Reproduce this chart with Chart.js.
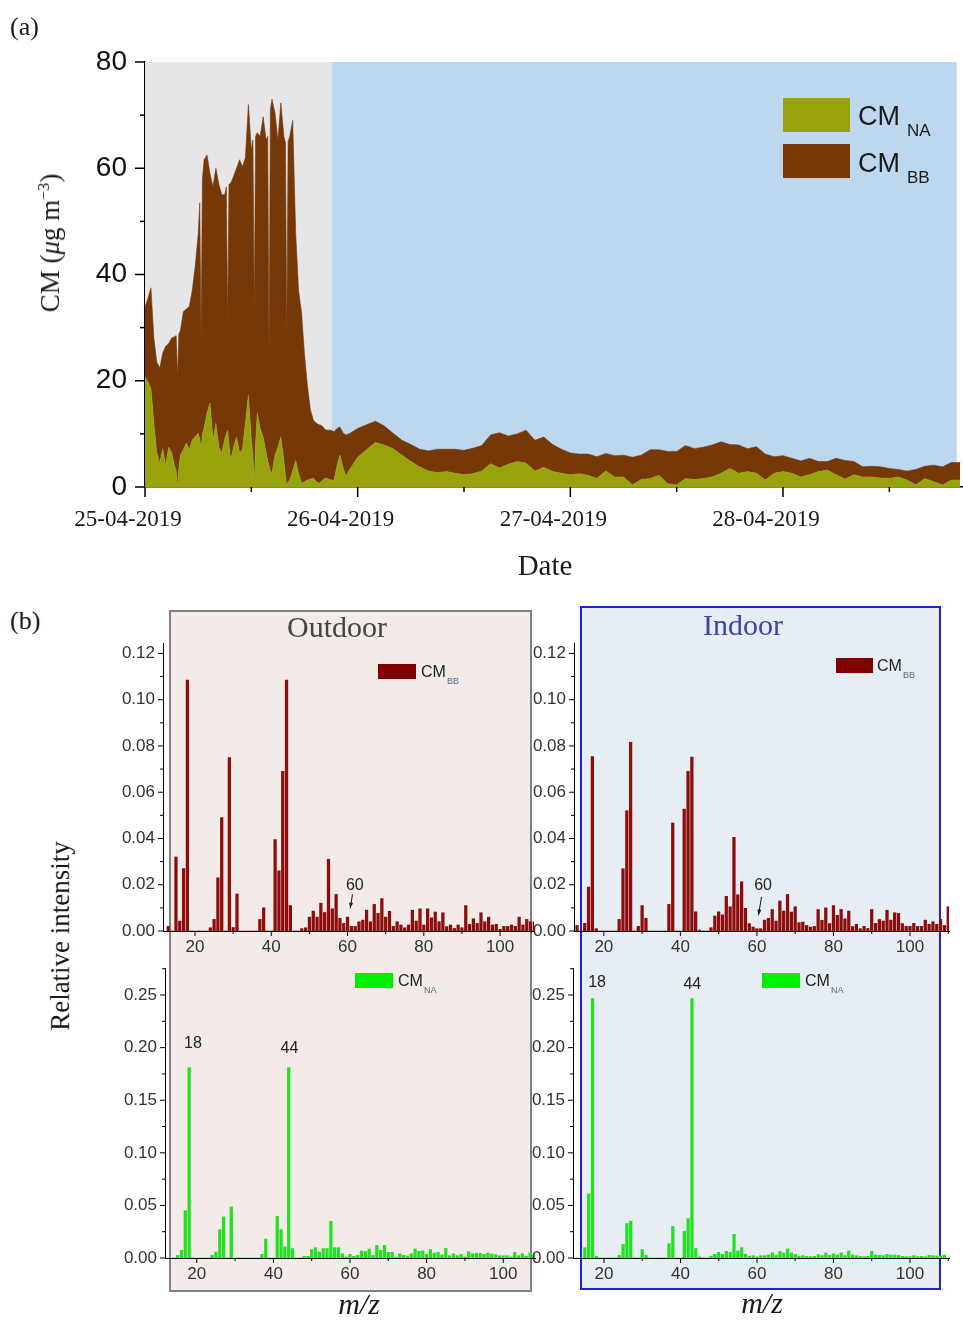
<!DOCTYPE html>
<html>
<head>
<meta charset="utf-8">
<script src="https://cdn.jsdelivr.net/npm/chart.js@4.4.1/dist/chart.umd.min.js"></script>
<style>
  body { margin: 0; background: #fff; width: 963px; height: 1320px; position: relative; overflow: hidden; font-family: "Liberation Serif", serif; }
  canvas { position: absolute; }
  .txt { position: absolute; white-space: nowrap; color: #1a1a1a; line-height: 1; }
  .frame { position: absolute; box-sizing: border-box; }
</style>
</head>
<body>
<div class="frame" style="left:169px;top:610px;width:363px;height:682px;border:2px solid #808080;background:#f3ebe7;"></div>
<div class="frame" style="left:580px;top:606px;width:361px;height:684px;border:2.5px solid #1f1fd6;background:#e6eef4;"></div>

<canvas id="cmChart"></canvas>
<canvas id="outBB"></canvas>
<canvas id="inBB"></canvas>
<canvas id="outNA"></canvas>
<canvas id="inNA"></canvas>

<div class="txt" style="left:10px;top:14px;font-size:26px;">(a)</div>
<div class="txt" style="left:10px;top:608px;font-size:26px;">(b)</div>
<div class="txt" style="left:50px;top:243px;font-size:27px;transform:translate(-50%,-50%) rotate(-90deg);">CM (<i>μ</i>g m<sup style="font-size:16px;">−3</sup>)</div>
<div class="txt" style="left:545px;top:551px;font-size:29px;transform:translateX(-50%);">Date</div>
<div class="txt" style="left:60px;top:936px;font-size:27px;transform:translate(-50%,-50%) rotate(-90deg);">Relative intensity</div>
<div class="txt" style="left:337px;top:612px;font-size:30px;color:#444;transform:translateX(-50%);">Outdoor</div>
<div class="txt" style="left:743px;top:610px;font-size:30px;color:#3a44aa;transform:translateX(-50%);">Indoor</div>
<div class="txt" style="left:359px;top:1289px;font-size:30px;font-style:italic;transform:translateX(-50%);">m/z</div>
<div class="txt" style="left:762px;top:1288px;font-size:30px;font-style:italic;transform:translateX(-50%);">m/z</div>

<script>
// ---- panel (a): time series of CM_NA and CM_BB (ug m-3), hours since 25-04-2019 00:00
const hours = [
  0, 0.33, 0.67, 1, 1.33, 1.67, 2, 2.33, 2.67, 3,
  3.33, 3.52, 3.67, 3.82, 4, 4.33, 4.67, 5, 5.33, 5.67,
  6, 6.18, 6.33, 6.48, 6.67, 7, 7.33, 7.67, 8, 8.33,
  8.67, 9, 9.18, 9.33, 9.48, 9.67, 10, 10.33, 10.67, 11,
  11.33, 11.67, 12, 12.18, 12.33, 12.48, 12.67, 13, 13.33, 13.67,
  13.85, 14, 14.15, 14.33, 14.67, 15, 15.33, 15.67, 15.85, 16,
  16.15, 16.33, 16.67, 17, 17.33, 17.67, 18, 18.33, 18.67, 19,
  19.33, 19.67, 20, 20.33, 20.67, 21, 21.33, 21.67, 22, 22.33,
  22.67, 23,
  24, 25, 26, 27, 28, 29, 30, 31, 32, 33,
  34, 35, 36, 37, 38, 39, 40, 41, 42, 43,
  44, 45, 46, 47, 48, 49, 50, 51, 52, 53,
  54, 55, 56, 57, 58, 59, 60, 61, 62, 63,
  64, 65, 66, 67, 68, 69, 70, 71, 72, 73,
  74, 75, 76, 77, 78, 79, 80, 81, 82, 83,
  84, 85, 86, 87, 88, 89, 90, 91, 92
];
const cmNA = [
  20.7, 19.8, 18.5, 12.0, 6.4, 4.5, 7.2, 4.0, 7.5, 6.5,
  4.0, 3.0, 0, 3.5, 6.0, 7.0, 8.3, 7.0, 8.8, 9.5,
  10.1, 9.0, 7.0, 10.0, 11.0, 14.0, 15.8, 8.8, 12.0, 7.5,
  6.4, 9.0, 10.0, 10.7, 8.0, 5.0, 7.5, 9.4, 6.4, 7.0,
  12.0, 17.3, 8.8, 6.0, 0, 8.0, 13.9, 11.0, 9.4, 6.4,
  5.0, 4.0, 3.0, 2.6, 6.0, 7.5, 9.4, 5.0, 2.0, 0,
  1.0, 1.3, 3.0, 5.0, 2.5, 0.7, 1.0, 1.3, 1.5, 1.7,
  1.0, 0.7, 1.2, 1.7, 1.5, 1.3, 1.3, 4.0, 6.0, 3.8,
  2.0, 3.0,
  5.6, 7.0, 8.4, 7.9, 7.2, 6.0, 4.8, 3.8, 3.0, 2.7,
  2.9, 2.6, 2.3, 2.5, 3.0, 4.4, 3.6, 4.3, 4.8, 4.5,
  3.0, 3.7, 2.9, 2.6, 2.3, 2.5, 2.2, 1.6, 3.0, 1.9,
  1.9, 0.4, 1.4, 1.6, 2.2, 0.6, 0.4, 1.6, 1.4, 1.6,
  1.9, 2.6, 3.5, 2.6, 2.9, 2.6, 1.3, 2.6, 2.9, 2.6,
  1.9, 2.3, 2.9, 3.2, 2.3, 1.5, 2.3, 1.9, 1.9, 1.7,
  1.6, 1.9, 1.3, 0.4, 1.6, 1.0, 0.4, 1.3, 1.3
];
const cmBB = [
  13.2, 15.7, 19.0, 16.0, 17.1, 17.9, 18.0, 22.5, 19.5, 21.5,
  24.3, 25.5, 20.7, 25.3, 23.5, 26.0, 25.2, 27.0, 28.2, 32.1,
  37.4, 44.5, 21.0, 48.0, 50.6, 48.5, 43.2, 47.7, 48.0, 49.5,
  48.6, 46.0, 46.5, 20.2, 49.0, 52.2, 51.0, 50.6, 55.2, 53.3,
  50.0, 54.7, 54.7, 59.3, 33.3, 58.0, 52.8, 55.0, 60.3, 58.9,
  61.0, 21.4, 68.0, 70.4, 64.4, 57.8, 62.9, 61.0, 62.8, 28.0,
  64.0, 64.7, 66.0, 43.0, 34.5, 32.1, 24.0, 17.7, 13.0, 10.9,
  11.0, 11.0, 10.3, 9.1, 9.2, 9.4, 9.1, 7.0, 5.3, 6.4,
  7.8, 7.0,
  5.4, 4.7, 4.0, 3.6, 2.9, 2.8, 3.2, 3.3, 3.8, 4.4,
  4.2, 4.5, 4.6, 4.8, 4.8, 5.4, 6.6, 5.3, 5.2, 6.2,
  5.8, 5.7, 5.1, 4.5, 4.1, 3.7, 4.0, 4.1, 3.3, 4.0,
  4.1, 5.2, 4.6, 5.4, 4.8, 6.1, 6.3, 6.2, 5.8, 5.9,
  6.0, 5.9, 4.5, 5.3, 4.3, 5.0, 4.9, 3.1, 3.0, 2.8,
  3.0, 3.1, 1.9, 1.6, 3.1, 3.5, 2.5, 1.9, 2.0, 2.1,
  1.9, 1.4, 1.7, 2.9, 2.3, 3.1, 3.4, 3.3, 3.3
];
const dateLabels = ['25-04-2019', '26-04-2019', '27-04-2019', '28-04-2019'];
const outdoorEndHour = 21.1;   // grey shading (outdoor period) ends
const indoorEndHour = 91.6;    // blue shading (indoor period) ends

// ---- panel (b): mass spectra profiles, m/z 13..110
const mzValues = [
  13, 14, 15, 16, 17, 18, 19, 20, 21, 22,
  23, 24, 25, 26, 27, 28, 29, 30, 31, 32,
  33, 34, 35, 36, 37, 38, 39, 40, 41, 42,
  43, 44, 45, 46, 47, 48, 49, 50, 51, 52,
  53, 54, 55, 56, 57, 58, 59, 60, 61, 62,
  63, 64, 65, 66, 67, 68, 69, 70, 71, 72,
  73, 74, 75, 76, 77, 78, 79, 80, 81, 82,
  83, 84, 85, 86, 87, 88, 89, 90, 91, 92,
  93, 94, 95, 96, 97, 98, 99, 100, 101, 102,
  103, 104, 105, 106, 107, 108, 109, 110
];
const outdoorBB = [
  0.002, 0, 0.032, 0.0043, 0.027, 0.1085, 0, 0, 0, 0,
  0, 0.0014, 0.005, 0.023, 0.049, 0, 0.075, 0.0015, 0.016, 0,
  0, 0, 0, 0, 0.005, 0.010, 0, 0, 0.0395, 0.026,
  0.069, 0.1085, 0.011, 0, 0, 0.001, 0.0014, 0.006, 0.0086, 0.006,
  0.012, 0.008, 0.031, 0.0096, 0.0158, 0.0055, 0.0033, 0.006, 0.002, 0.002,
  0.004, 0.0047, 0.009, 0.004, 0.0115, 0.0076, 0.014, 0.006, 0.0085, 0.002,
  0.004, 0.0026, 0.0014, 0.0026, 0.009, 0.0043, 0.0096, 0.0026, 0.0096, 0.0057,
  0.0082, 0.004, 0.0079, 0.0019, 0.0026, 0.0011, 0.0026, 0.0014, 0.011, 0.0029,
  0.0053, 0.0033, 0.0079, 0.004, 0.006, 0.0026, 0.0029, 0.0007, 0.002, 0.002,
  0.0026, 0.002, 0.006, 0.0026, 0.005, 0.004, 0.004, 0
];
const indoorBB = [
  0.0024, 0, 0.0033, 0.019, 0.0754, 0.001, 0, 0, 0, 0,
  0, 0.005, 0.0269, 0.052, 0.0816, 0, 0.002, 0.011, 0.0055, 0,
  0, 0, 0, 0, 0.0115, 0.0467, 0, 0, 0.0527, 0.069,
  0.0752, 0.0083, 0.0004, 0, 0, 0.0014, 0.0065, 0.0083, 0.007, 0.015,
  0.0105, 0.0405, 0.0157, 0.0213, 0.0098, 0.0032, 0.0017, 0.001, 0.001, 0.0047,
  0.0055, 0.0093, 0.0043, 0.013, 0.0086, 0.0158, 0.0082, 0.0105, 0.0036, 0.0039,
  0.0024, 0.0017, 0.002, 0.0093, 0.0046, 0.01, 0.0032, 0.011, 0.0068, 0.0093,
  0.0053, 0.0086, 0.0019, 0.0029, 0.001, 0.002, 0.0011, 0.0093, 0.0033, 0.005,
  0.0043, 0.009, 0.0047, 0.0079, 0.0076, 0.0032, 0.002, 0.002, 0.0033, 0.002,
  0.002, 0.0047, 0.0029, 0.004, 0.0029, 0.005, 0.0024, 0.0105
];
const outdoorNA = [
  0, 0, 0.0025, 0.0073, 0.045, 0.181, 0, 0, 0, 0,
  0, 0.0025, 0.0057, 0.027, 0.039, 0, 0.0485, 0, 0, 0,
  0, 0, 0, 0, 0.0035, 0.018, 0, 0, 0.0396, 0.027,
  0.0105, 0.181, 0.009, 0, 0, 0.0016, 0.0016, 0.008, 0.0098, 0.0057,
  0.009, 0.009, 0.035, 0.0098, 0.0098, 0.004, 0.001, 0.0035, 0.0016, 0.0025,
  0.0067, 0.0063, 0.0086, 0.0025, 0.012, 0.0073, 0.012, 0.0054, 0.0054, 0.001,
  0.004, 0.0025, 0.0019, 0.004, 0.0086, 0.0063, 0.0067, 0.0035, 0.008, 0.0048,
  0.0054, 0.0029, 0.0092, 0.0022, 0.004, 0.0022, 0.0035, 0.001, 0.006, 0.004,
  0.0044, 0.0044, 0.0035, 0.0048, 0.0038, 0.0032, 0.0022, 0.0022, 0.0022, 0.001,
  0.0054, 0.0022, 0.004, 0.0016, 0.0048, 0.003, 0.003, 0
];
const indoorNA = [
  0, 0, 0.0098, 0.061, 0.2466, 0.0016, 0, 0, 0, 0,
  0, 0.0025, 0.013, 0.0327, 0.035, 0, 0, 0.008, 0.0025, 0,
  0, 0, 0, 0, 0.0136, 0.030, 0, 0, 0.0254, 0.0374,
  0.2466, 0.009, 0.001, 0, 0, 0.0016, 0.0035, 0.0054, 0.0035, 0.0063,
  0.0054, 0.0225, 0.0067, 0.0098, 0.0035, 0.0016, 0.0022, 0.001, 0.0022, 0.0022,
  0.0029, 0.005, 0.0025, 0.0063, 0.0048, 0.0086, 0.0048, 0.0035, 0.0016, 0.0022,
  0.0016, 0.0013, 0.0016, 0.0032, 0.0022, 0.0048, 0.0025, 0.004, 0.0029, 0.0048,
  0.0022, 0.0067, 0.0029, 0.0022, 0.0016, 0.0013, 0.0016, 0.0063, 0.0029, 0.0025,
  0.0022, 0.0035, 0.0029, 0.0029, 0.0025, 0.0016, 0.0013, 0.0013, 0.0022, 0.0013,
  0.0016, 0.0013, 0.0025, 0.0022, 0.0019, 0.0022, 0.0029, 0
];

const naColor = '#98a20c';
const bbColor = '#763807';
const sansFont = 'Liberation Sans, Arial, sans-serif';
const serifFont = 'Liberation Serif, Times New Roman, serif';

const isMajor = (v, step) => Math.abs(v / step - Math.round(v / step)) < 1e-6;

// outward tick marks, long on major ticks, short on minor ones
const tickMarks = {
  id: 'tickMarks',
  afterDraw(chart, args, o) {
    const { ctx, chartArea: a } = chart;
    const xs = chart.scales.x, ys = chart.scales.y;
    ctx.save();
    ctx.strokeStyle = '#000';
    ctx.lineWidth = o.width;
    xs.ticks.forEach(t => {
      if (t.value < xs.min || t.value > xs.max) return;
      const p = xs.getPixelForValue(t.value);
      const len = isMajor(t.value, o.xMajor) ? o.major : o.minor;
      ctx.beginPath(); ctx.moveTo(p, a.bottom); ctx.lineTo(p, a.bottom + len); ctx.stroke();
    });
    ys.ticks.forEach(t => {
      if (t.value < ys.min || t.value > ys.max) return;
      const p = ys.getPixelForValue(t.value);
      const len = isMajor(t.value, o.yMajor) ? o.major : o.minor;
      ctx.beginPath(); ctx.moveTo(a.left, p); ctx.lineTo(a.left - len, p); ctx.stroke();
    });
    ctx.restore();
  }
};

// legend with subscripted names
const subLegend = {
  id: 'subLegend',
  afterDraw(chart, args, o) {
    const ctx = chart.ctx;
    (o.items || []).forEach(item => {
      ctx.save();
      ctx.fillStyle = item.box;
      ctx.fillRect(item.x - o.ox, item.y - o.oy, item.w, item.h);
      ctx.textBaseline = 'alphabetic';
      ctx.textAlign = 'left';
      ctx.fillStyle = o.color;
      ctx.font = o.mainFont;
      ctx.fillText(item.main, item.tx - o.ox, item.base - o.oy);
      const w = ctx.measureText(item.main).width;
      ctx.fillStyle = o.subColor;
      ctx.font = o.subFont;
      ctx.fillText(item.sub, item.tx - o.ox + w + o.gap, item.base - o.oy + o.drop);
      ctx.restore();
    });
  }
};

// shaded outdoor / indoor periods
const periods = {
  id: 'periods',
  beforeDatasetsDraw(chart) {
    const { ctx, chartArea: a } = chart;
    const xs = chart.scales.x, ys = chart.scales.y;
    const x0 = xs.getPixelForValue(0), x1 = xs.getPixelForValue(outdoorEndHour), x2 = xs.getPixelForValue(indoorEndHour);
    const top = ys.getPixelForValue(80);
    ctx.save();
    ctx.fillStyle = '#e6e5e7';
    ctx.fillRect(x0, top, x1 - x0, a.bottom - top);
    ctx.fillStyle = '#bdd7ee';
    ctx.fillRect(x1, top, x2 - x1, a.bottom - top);
    ctx.restore();
  }
};

// peak labels and arrows in the spectra
const peakNotes = {
  id: 'peakNotes',
  afterDraw(chart, args, o) {
    const ctx = chart.ctx;
    const xs = chart.scales.x, ys = chart.scales.y;
    ctx.save();
    ctx.fillStyle = '#222';
    ctx.strokeStyle = '#111';
    ctx.font = '16px ' + sansFont;
    ctx.textAlign = 'center';
    ctx.textBaseline = 'middle';
    (o.labels || []).forEach(n => {
      ctx.fillText(n.text, xs.getPixelForValue(n.mz), ys.getPixelForValue(n.value));
    });
    (o.arrows || []).forEach(n => {
      const x1 = xs.getPixelForValue(n.mz1), y1 = ys.getPixelForValue(n.v1);
      const x2 = xs.getPixelForValue(n.mz2), y2 = ys.getPixelForValue(n.v2);
      ctx.lineWidth = 1;
      ctx.beginPath(); ctx.moveTo(x1, y1); ctx.lineTo(x2, y2); ctx.stroke();
      const ang = Math.atan2(y2 - y1, x2 - x1);
      ctx.beginPath();
      ctx.moveTo(x2, y2);
      ctx.lineTo(x2 - 6 * Math.cos(ang - 0.35), y2 - 6 * Math.sin(ang - 0.35));
      ctx.lineTo(x2 - 6 * Math.cos(ang + 0.35), y2 - 6 * Math.sin(ang + 0.35));
      ctx.closePath(); ctx.fill();
    });
    ctx.restore();
  }
};

// ---------------- panel (a)
const cmCanvas = document.getElementById('cmChart');
cmCanvas.width = 963; cmCanvas.height = 590;
cmCanvas.style.left = '0px'; cmCanvas.style.top = '0px';

new Chart(cmCanvas, {
  type: 'line',
  data: {
    datasets: [
      { label: 'CM_NA', data: hours.map((h, i) => ({ x: h, y: cmNA[i] })), backgroundColor: naColor, borderColor: naColor,
        borderWidth: 0.6, fill: 'origin', pointRadius: 0, tension: 0 },
      { label: 'CM_BB', data: hours.map((h, i) => ({ x: h, y: cmBB[i] })), backgroundColor: bbColor, borderColor: bbColor,
        borderWidth: 0.6, fill: '-1', pointRadius: 0, tension: 0 }
    ]
  },
  options: {
    responsive: false, animation: false, devicePixelRatio: 1,
    layout: { padding: { top: 62, right: 1, left: 0, bottom: 0 } },
    plugins: {
      legend: { display: false }, tooltip: { enabled: false },
      tickMarks: { width: 1.5, major: 10, minor: 5, xMajor: 24, yMajor: 20 },
      subLegend: {
        ox: 0, oy: 0, color: '#1a1a1a', subColor: '#1a1a1a', gap: 7, drop: 11,
        mainFont: '27px ' + sansFont, subFont: '17px ' + sansFont,
        items: [
          { box: naColor, x: 783, y: 98, w: 67, h: 34, main: 'CM', sub: 'NA', tx: 858, base: 125 },
          { box: bbColor, x: 783, y: 144, w: 67, h: 34, main: 'CM', sub: 'BB', tx: 858, base: 171.5 }
        ]
      }
    },
    scales: {
      x: {
        type: 'linear', min: 0, max: 92.2,
        grid: { display: false, drawTicks: false },
        border: { display: true, color: '#000', width: 1.5 },
        ticks: { stepSize: 12, includeBounds: false, autoSkip: false, maxRotation: 0, padding: 19, labelOffset: -17,
          color: '#1a1a1a', font: { family: serifFont, size: 23 },
          callback: v => (v % 24 === 0 ? dateLabels[v / 24] : '') },
        afterFit: s => { s.height = 103; }
      },
      y: {
        stacked: true, min: 0, max: 80,
        grid: { display: false, drawTicks: false },
        border: { display: true, color: '#000', width: 1.5 },
        ticks: { stepSize: 10, padding: 18, color: '#111', font: { family: sansFont, size: 28 },
          callback: v => (v % 20 === 0 ? v : '') },
        afterFit: s => { s.width = 145; }
      }
    }
  },
  plugins: [periods, tickMarks, subLegend]
});

// ---------------- panel (b)
function makeSpectrum(id, area, values, color, legendItem, notes) {
  const canvas = document.getElementById(id);
  const padL = 70, padT = 20, padR = 12, padB = 34;
  canvas.width = area.right - area.left + padL + padR;
  canvas.height = area.bottom - area.top + padT + padB;
  const ox = area.left - padL, oy = area.top - padT;
  canvas.style.left = ox + 'px';
  canvas.style.top = oy + 'px';

  new Chart(canvas, {
    type: 'bar',
    data: {
      datasets: [{
        label: legendItem.main + legendItem.sub,
        data: mzValues.map((m, i) => ({ x: m, y: values[i] })),
        backgroundColor: color, borderWidth: 0, barThickness: 2.6
      }]
    },
    options: {
      responsive: false, animation: false, devicePixelRatio: 1,
      layout: { padding: { top: padT, right: padR, left: 0, bottom: 0 } },
      plugins: {
        legend: { display: false }, tooltip: { enabled: false },
        tickMarks: { width: 1, major: 5, minor: 3, xMajor: 20, yMajor: area.yMajor },
        subLegend: {
          ox: ox, oy: oy, color: '#222', subColor: '#5a6a80', gap: 1, drop: 6.5,
          mainFont: '16px ' + sansFont, subFont: '9px ' + sansFont,
          items: [legendItem]
        },
        peakNotes: notes
      },
      scales: {
        x: {
          type: 'linear', min: area.xMin, max: area.xMax, offset: false,
          grid: { display: false, drawTicks: false },
          border: { display: true, color: '#000', width: 1 },
          ticks: { stepSize: 10, includeBounds: false, autoSkip: false, maxRotation: 0, padding: 6,
            color: '#333', font: { family: sansFont, size: 17 },
            callback: v => (v % 20 === 0 ? v : '') },
          afterFit: s => { s.height = padB; }
        },
        y: {
          min: 0, max: area.yMax,
          grid: { display: false, drawTicks: false },
          border: { display: true, color: '#000', width: 1 },
          ticks: { stepSize: area.yStep, includeBounds: false, padding: 8, color: '#333', font: { family: sansFont, size: 17 },
            callback: v => (isMajor(v, area.yMajor) ? v.toFixed(2) : '') },
          afterFit: s => { s.width = padL; }
        }
      }
    },
    plugins: [tickMarks, subLegend, peakNotes]
  });
}

const bbBar = '#8e0c0c', bbKey = '#800000';
const naBar = '#22e022', naKey = '#00ee00';

makeSpectrum('outBB', { left: 163, top: 643, right: 534, bottom: 931, xMin: 11.6, xMax: 108.9, yMax: 0.1245, yStep: 0.01, yMajor: 0.02 },
  outdoorBB, bbBar,
  { box: bbKey, x: 378, y: 664, w: 38, h: 15, main: 'CM', sub: 'BB', tx: 421, base: 677 },
  { labels: [{ text: '60', mz: 61.9, value: 0.0198 }], arrows: [{ mz1: 61.3, v1: 0.0158, mz2: 60.7, v2: 0.0098 }] });

makeSpectrum('inBB', { left: 574, top: 643, right: 949, bottom: 931, xMin: 12.2, xMax: 110.2, yMax: 0.1245, yStep: 0.01, yMajor: 0.02 },
  indoorBB, bbBar,
  { box: bbKey, x: 836, y: 658, w: 37, h: 15, main: 'CM', sub: 'BB', tx: 877, base: 671 },
  { labels: [{ text: '60', mz: 61.6, value: 0.0198 }], arrows: [{ mz1: 61.2, v1: 0.0147, mz2: 60.4, v2: 0.0068 }] });

makeSpectrum('outNA', { left: 165, top: 968, right: 535, bottom: 1258, xMin: 11.7, xMax: 108.3, yMax: 0.2757, yStep: 0.025, yMajor: 0.05 },
  outdoorNA, naBar,
  { box: naKey, x: 355, y: 973, w: 38, h: 15, main: 'CM', sub: 'NA', tx: 398, base: 986 },
  { labels: [{ text: '18', mz: 19.0, value: 0.204 }, { text: '44', mz: 44.2, value: 0.1987 }], arrows: [] });

makeSpectrum('inNA', { left: 573, top: 968, right: 949, bottom: 1258, xMin: 11.9, xMax: 110.2, yMax: 0.2757, yStep: 0.025, yMajor: 0.05 },
  indoorNA, naBar,
  { box: naKey, x: 762, y: 973, w: 38, h: 15, main: 'CM', sub: 'NA', tx: 805, base: 986 },
  { labels: [{ text: '18', mz: 18.2, value: 0.2618 }, { text: '44', mz: 43.1, value: 0.2596 }], arrows: [] });
</script>
</body>
</html>
